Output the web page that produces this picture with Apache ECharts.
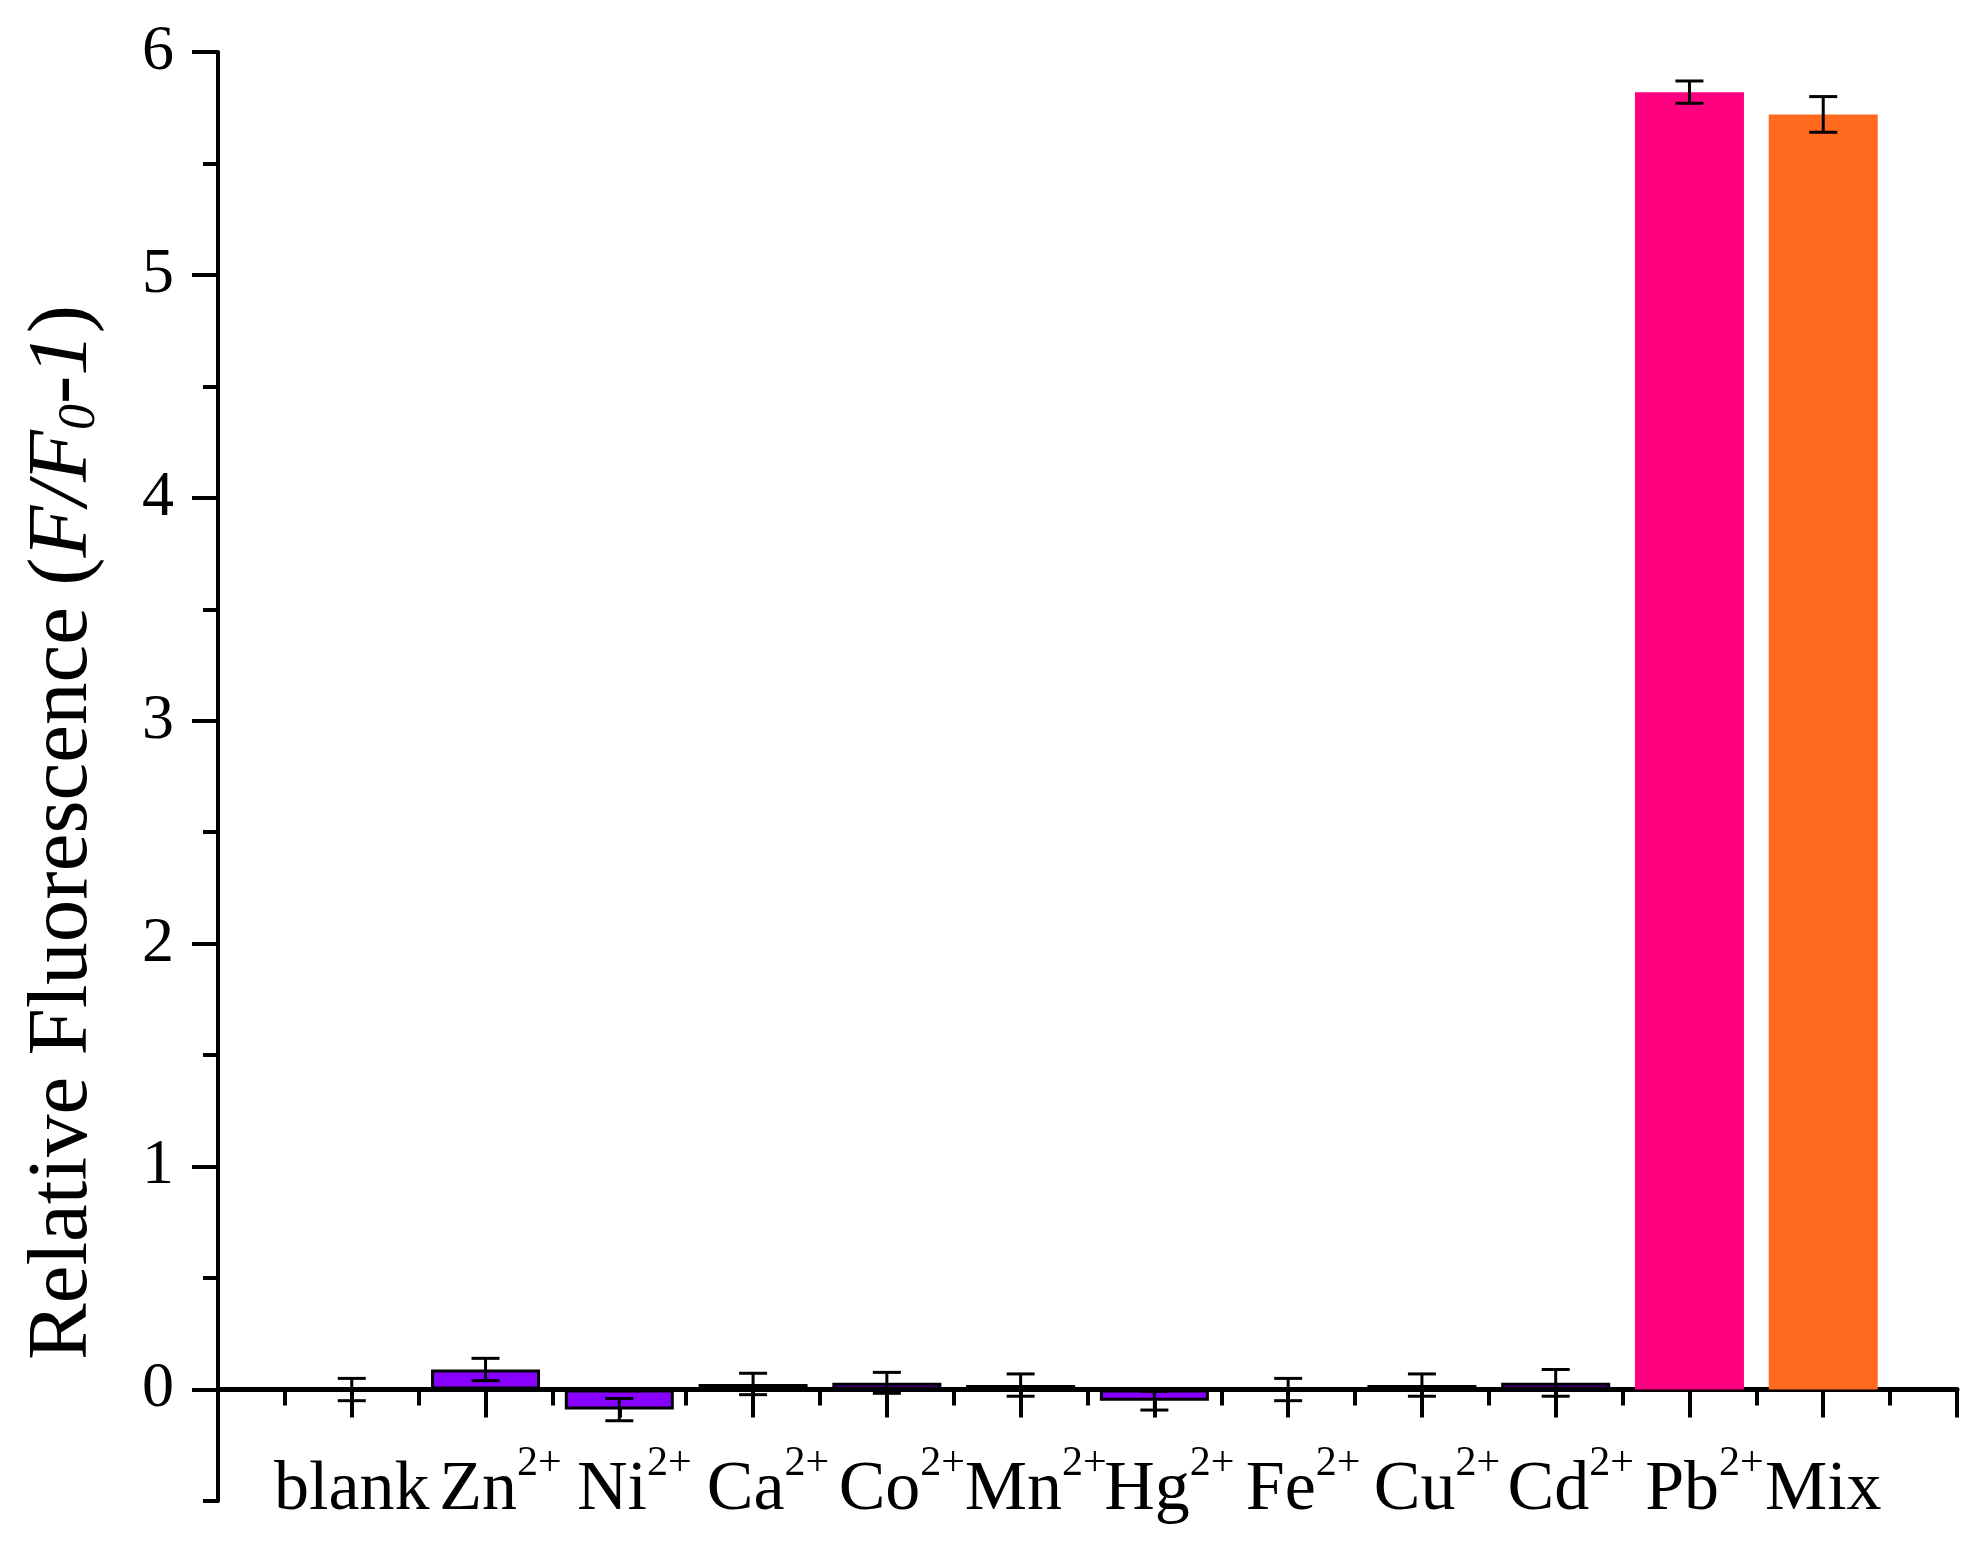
<!DOCTYPE html>
<html>
<head>
<meta charset="utf-8">
<script src="https://cdn.jsdelivr.net/npm/echarts@6/dist/echarts.min.js"></script>
<style>
  html, body { margin: 0; padding: 0; background: #fff; }
  #chart { width: 1986px; height: 1542px; }
</style>
</head>
<body>
<div id="chart"></div>
<script>
// data
const ions = ["blank", "Zn", "Ni", "Ca", "Co", "Mn", "Hg", "Fe", "Cu", "Cd", "Pb", "Mix"];
const charges = ["", "2+", "2+", "2+", "2+", "2+", "2+", "2+", "2+", "2+", "2+", ""];
const values = [0, 0.09, -0.09, 0.025, 0.03, 0.02, -0.05, 0, 0.02, 0.03, 5.82, 5.72];
const errors = [0.05, 0.05, 0.05, 0.048, 0.047, 0.05, 0.042, 0.05, 0.05, 0.06, 0.05, 0.08];
const yMajorTicks = [0, 1, 2, 3, 4, 5, 6];
const yMinorTicks = [-0.5, 0.5, 1.5, 2.5, 3.5, 4.5, 5.5];

const purple = "#8800ff";
const barColors = [purple, purple, purple, purple, purple, purple, purple, purple, purple, purple, "#ff0080", "#ff6a1f"];

const font = "Liberation Serif";

const chart = echarts.init(document.getElementById("chart"));

const barData = values.map((v, i) => ({
  value: [i + 1, v],
  itemStyle: {
    color: barColors[i],
    borderColor: "#000",
    borderWidth: barColors[i] === purple ? 3 : 0,
  },
}));
const errData = values.map((v, i) => [i + 1, v, errors[i]]);

const option = {
  backgroundColor: "#fff",
  animation: false,
  grid: {
    left: 218, right: 29, top: 52, bottom: 41,
    outerBounds: { left: -300, top: -300, right: -300, bottom: -300 },
  },
  xAxis: {
    type: "value",
    min: 0,
    max: 13,
    interval: 1,
    splitLine: { show: false },
    axisLine: { onZero: true, lineStyle: { color: "#000", width: 5 } },
    axisTick: { length: 28, lineStyle: { color: "#000", width: 4 } },
    minorTick: { show: true, splitNumber: 2, length: 16, lineStyle: { color: "#000", width: 4 } },
    axisLabel: {
      // labels stay at the grid bottom (y = -0.5), pulled up towards the zero line
      margin: -58,
      fontFamily: font,
      fontSize: 70,
      color: "#000",
      formatter: function (v) {
        const i = Math.round(v) - 1;
        if (i < 0 || i >= ions.length) return "";
        if (!charges[i]) return "{m|" + ions[i] + "}";
        return "{sp| }{m|" + ions[i] + "}{s|" + charges[i] + "}";
      },
      rich: {
        m: { fontFamily: font, fontSize: 70, lineHeight: 96, color: "#000" },
        s: { fontFamily: font, fontSize: 42, lineHeight: 10, verticalAlign: "top", color: "#000" },
        sp: { fontFamily: font, fontSize: 42, lineHeight: 10, width: 30 },
      },
    },
  },
  yAxis: [
    {
      type: "value",
      min: -0.5,
      max: 6,
      position: "left",
      splitLine: { show: false },
      axisLine: { show: true, lineStyle: { color: "#000", width: 4 } },
      axisTick: { show: true, customValues: yMajorTicks, length: 26, lineStyle: { color: "#000", width: 4 } },
      axisLabel: {
        customValues: yMajorTicks,
        margin: 44,
        fontFamily: font,
        fontSize: 64,
        color: "#000",
      },
      name: "Relative Fluorescence ({i|F/F}{sub|0}{i|-1})",
      nameLocation: "middle",
      nameRotate: 90,
      nameGap: 112,
      nameTextStyle: {
        fontFamily: font,
        fontSize: 85,
        lineHeight: 85,
        color: "#000",
        padding: [0, 112, 0, 0],
        rich: {
          i: { fontFamily: font, fontSize: 85, lineHeight: 85, fontStyle: "italic", color: "#000" },
          sub: { fontFamily: font, fontSize: 52, lineHeight: 42, fontStyle: "italic", verticalAlign: "bottom", color: "#000" },
        },
      },
    },
    {
      type: "value",
      min: -0.5,
      max: 6,
      position: "left",
      splitLine: { show: false },
      axisLine: { show: false },
      axisTick: { show: true, customValues: yMinorTicks, length: 15, lineStyle: { color: "#000", width: 4 } },
      axisLabel: { show: false },
    },
  ],
  series: [
    {
      type: "bar",
      barWidth: 109,
      data: barData,
      z: 2,
    },
    {
      type: "custom",
      z: 3,
      encode: { x: 0, y: 1 },
      data: errData,
      renderItem: function (params, api) {
        const x = api.value(0);
        const v = api.value(1);
        const e = api.value(2);
        const top = api.coord([x, v + e]);
        const bot = api.coord([x, v - e]);
        const cap = 14;
        const st = { stroke: "#000", lineWidth: 3 };
        return {
          type: "group",
          children: [
            { type: "line", shape: { x1: top[0], y1: top[1], x2: bot[0], y2: bot[1] }, style: st },
            { type: "line", shape: { x1: top[0] - cap, y1: top[1], x2: top[0] + cap, y2: top[1] }, style: st },
            { type: "line", shape: { x1: bot[0] - cap, y1: bot[1], x2: bot[0] + cap, y2: bot[1] }, style: st },
          ],
        };
      },
    },
  ],
};

chart.setOption(option);
</script>
</body>
</html>
